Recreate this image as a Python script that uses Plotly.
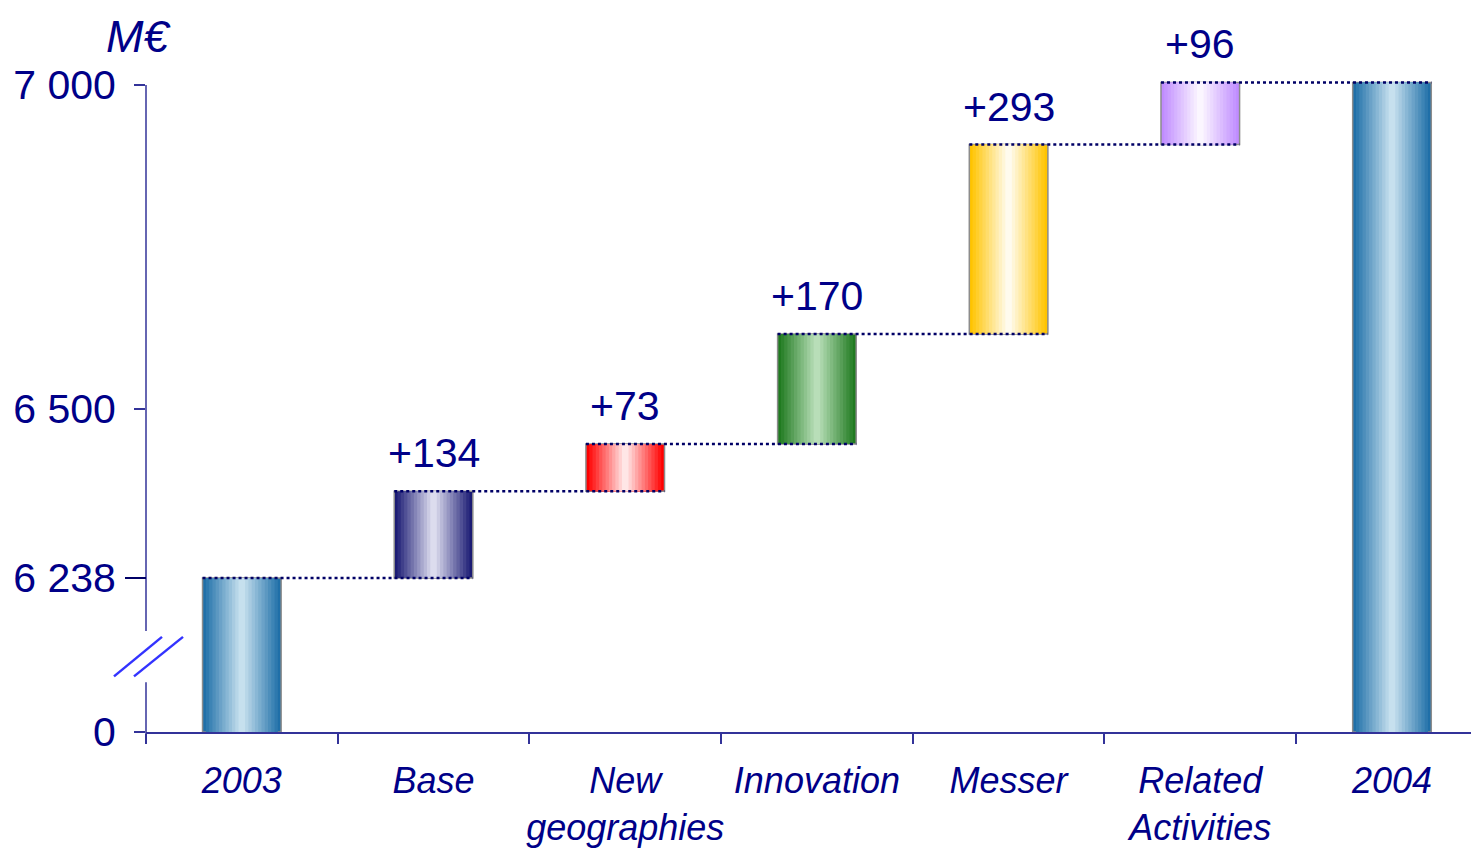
import plotly.graph_objects as go

# ---------------- data ----------------
categories = ["2003", "Base", "New<br>geographies", "Innovation", "Messer",
              "Related<br>Activities", "2004"]
start_value = 6238
deltas = [134, 73, 170, 293, 96]
axis_floor = 6000          # value shown as "0" below the axis break
axis_top = 7119
tick_values = [6000, 6238, 6500, 7000]
tick_labels = ["0", "6 238", "6 500", "7 000"]
edge_colors = ["#1f6fa8", "#1c1c74", "#ff0000", "#1f7a1f", "#ffc400", "#c08cff", "#1f6fa8"]
center_colors = ["#c6e0ee", "#dcdcee", "#ffe6e6", "#b8deb8", "#fffbee", "#fbf6ff", "#c6e0ee"]

# ---------------- derived ----------------
cum = [start_value]
for d in deltas:
    cum.append(cum[-1] + d)
end_value = cum[-1]
tops = cum + [end_value]
bases = [axis_floor] + cum[:-1] + [axis_floor]
heights = [t - b for t, b in zip(tops, bases)]
labels = [""] + [f"+{d}" for d in deltas] + [""]

TEXT = "#000088"
AXIS = "#333399"
FONT = "Liberation Sans, Arial, sans-serif"
BAR_W = 0.41
N_LAYERS = 12


def hex2rgb(h):
    h = h.lstrip("#")
    return tuple(int(h[i:i + 2], 16) for i in (0, 2, 4))


def mix(c1, c2, t):
    a, b = hex2rgb(c1), hex2rgb(c2)
    return "rgb(%d,%d,%d)" % tuple(round(a[i] + (b[i] - a[i]) * t) for i in range(3))


fig = go.Figure()

# gradient bars: nested layers, dark at the edges, light in the middle
for k in range(N_LAYERS):
    t = k / (N_LAYERS - 1)
    fig.add_trace(go.Bar(
        x=categories, y=heights, base=bases,
        width=BAR_W * (1 - k / N_LAYERS),
        marker=dict(color=[mix(e, c, t) for e, c in zip(edge_colors, center_colors)],
                    line=dict(color="#8c8c8c" if k == 0 else "rgba(0,0,0,0)",
                              width=1.5 if k == 0 else 0)),
        hoverinfo="skip", showlegend=False,
    ))

# dotted connectors (on hidden numeric x axis)
for i in range(len(categories) - 1):
    level = tops[i]
    fig.add_trace(go.Scatter(
        x=[i - BAR_W / 2, i + 1 + BAR_W / 2], y=[level, level],
        xaxis="x2", yaxis="y", mode="lines",
        line=dict(color="#000066", width=2.5, dash="dot"),
        hoverinfo="skip", showlegend=False,
    ))

# value labels
for i, lab in enumerate(labels):
    if lab:
        fig.add_annotation(x=categories[i], y=tops[i], text=lab, showarrow=False,
                           yanchor="bottom", yshift=13,
                           font=dict(size=41, color=TEXT, family=FONT))

xr = [-0.5, 6.454]
PLOT_H = 724


def yp(v):
    return (v - axis_floor) / (axis_top - axis_floor)


def xp(px):
    return (px - 146) / 1333


shapes = [
    # broken y axis line
    dict(type="line", xref="paper", yref="paper", x0=0, x1=0, y0=yp(7000), y1=yp(6156),
         line=dict(color=AXIS, width=1.5)),
    dict(type="line", xref="paper", yref="paper", x0=0, x1=0, y0=yp(6077), y1=yp(5983),
         line=dict(color=AXIS, width=1.5)),
    # long tick at start value
    dict(type="line", xref="paper", yref="paper", x0=xp(125), x1=0, y0=yp(start_value),
         y1=yp(start_value), line=dict(color="#000066", width=2)),
    # break marks
    dict(type="line", xref="paper", yref="paper", x0=xp(114), x1=xp(162), y0=yp(6086), y1=yp(6147),
         line=dict(color="#3333ff", width=2.5)),
    dict(type="line", xref="paper", yref="paper", x0=xp(134), x1=xp(183), y0=yp(6086), y1=yp(6147),
         line=dict(color="#3333ff", width=2.5)),
]

fig.add_annotation(xref="paper", yref="paper", x=xp(138), y=(732 - 37) / PLOT_H,
                   text="M€", showarrow=False, xanchor="center", yanchor="middle",
                   borderpad=0,
                   font=dict(size=45, color=TEXT, family=FONT, style="italic"))

fig.update_layout(
    width=1471, height=840,
    margin=dict(l=138, r=0, t=0, b=116, autoexpand=False),
    paper_bgcolor="white", plot_bgcolor="white",
    barmode="overlay", showlegend=False,
    shapes=shapes,
    xaxis=dict(type="category", range=xr, showline=True, linecolor=AXIS, linewidth=1.5,
               ticks="outside", tickson="boundaries", ticklen=10, tickcolor=AXIS, tickwidth=1.5,
               showgrid=False, zeroline=False, ticklabelstandoff=16, tickangle=0,
               automargin=False,
               tickfont=dict(size=36, color=TEXT, family=FONT, style="italic")),
    xaxis2=dict(overlaying="x", range=xr, visible=False, anchor="y"),
    yaxis=dict(range=[axis_floor, axis_top], tickvals=tick_values, ticktext=tick_labels,
               ticks="outside", ticklen=11, tickcolor=AXIS, tickwidth=1.5, automargin=False,
               showline=False, showgrid=False, zeroline=False, ticklabelstandoff=10,
               tickfont=dict(size=41, color=TEXT, family=FONT)),
)

fig.write_html("out.html")
